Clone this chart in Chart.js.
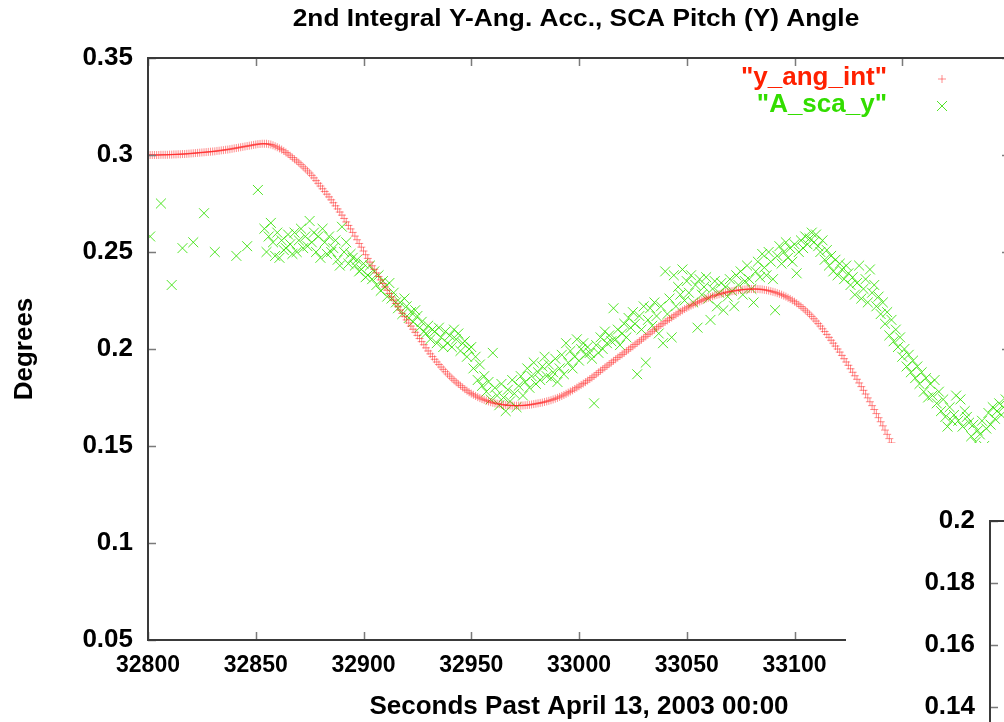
<!DOCTYPE html>
<html>
<head>
<meta charset="utf-8">
<title>2nd Integral Y-Ang. Acc., SCA Pitch (Y) Angle</title>
<script src="https://cdn.jsdelivr.net/npm/chart.js@4.4.1/dist/chart.umd.min.js"></script>
<style>
  html, body { margin: 0; padding: 0; background: #fff; overflow: hidden; }
  #page { position: relative; width: 1004px; height: 722px; overflow: hidden; }
  #mainBox { position: absolute; left: 0; top: 0; }
  #insetBox { position: absolute; left: 846px; top: 443px; background: #fff; }
</style>
</head>
<body>
<div id="page">
  <div id="mainBox"><canvas id="mainChart" width="1100" height="722"></canvas></div>
  <div id="insetBox"><canvas id="insetChart" width="300" height="357"></canvas></div>
</div>
<script>
const chartTitle = '2nd Integral Y-Ang. Acc., SCA Pitch (Y) Angle';
const xTitle = 'Seconds Past April 13, 2003 00:00';
const yTitle = 'Degrees';
const seriesNames = ['"y_ang_int"', '"A_sca_y"'];

const xMin = 32800, xMax = 33200, xStep = 50;
const yMin = 0.05, yMax = 0.35, yStep = 0.05;
const insetYMin = 0.12, insetYMax = 0.2, insetYStep = 0.02;

// y_ang_int : une valeur par seconde a partir de 32800
const angIntStart = 32800;
const angIntValues = [
  0.3000, 0.3000, 0.3000, 0.3000, 0.3000, 0.3000, 0.3001, 0.3001, 0.3001, 0.3001,
  0.3002, 0.3002, 0.3003, 0.3003, 0.3004, 0.3004, 0.3005, 0.3005, 0.3006, 0.3007,
  0.3008, 0.3009, 0.3010, 0.3011, 0.3012, 0.3013, 0.3014, 0.3015, 0.3016, 0.3017,
  0.3018, 0.3019, 0.3021, 0.3022, 0.3024, 0.3025, 0.3027, 0.3028, 0.3030, 0.3032,
  0.3034, 0.3036, 0.3038, 0.3040, 0.3042, 0.3044, 0.3046, 0.3048, 0.3050, 0.3052,
  0.3054, 0.3056, 0.3057, 0.3058, 0.3058, 0.3058, 0.3056, 0.3054, 0.3050, 0.3045,
  0.3040, 0.3034, 0.3028, 0.3021, 0.3013, 0.3005, 0.2996, 0.2987, 0.2978, 0.2969,
  0.2960, 0.2950, 0.2939, 0.2929, 0.2918, 0.2907, 0.2895, 0.2882, 0.2868, 0.2854,
  0.2840, 0.2826, 0.2812, 0.2798, 0.2784, 0.2769, 0.2754, 0.2738, 0.2722, 0.2706,
  0.2690, 0.2673, 0.2655, 0.2637, 0.2619, 0.2601, 0.2582, 0.2563, 0.2544, 0.2525,
  0.2505, 0.2486, 0.2467, 0.2448, 0.2429, 0.2411, 0.2392, 0.2374, 0.2356, 0.2338,
  0.2320, 0.2303, 0.2286, 0.2269, 0.2252, 0.2235, 0.2218, 0.2201, 0.2184, 0.2167,
  0.2150, 0.2134, 0.2118, 0.2102, 0.2086, 0.2070, 0.2054, 0.2038, 0.2022, 0.2006,
  0.1990, 0.1975, 0.1961, 0.1947, 0.1933, 0.1920, 0.1907, 0.1895, 0.1883, 0.1871,
  0.1860, 0.1849, 0.1839, 0.1829, 0.1820, 0.1811, 0.1802, 0.1793, 0.1785, 0.1777,
  0.1770, 0.1764, 0.1758, 0.1752, 0.1747, 0.1742, 0.1738, 0.1734, 0.1730, 0.1726,
  0.1723, 0.1720, 0.1718, 0.1716, 0.1714, 0.1712, 0.1711, 0.1710, 0.1709, 0.1708,
  0.1708, 0.1708, 0.1708, 0.1708, 0.1709, 0.1710, 0.1711, 0.1712, 0.1714, 0.1716,
  0.1718, 0.1720, 0.1722, 0.1724, 0.1727, 0.1730, 0.1733, 0.1736, 0.1740, 0.1744,
  0.1748, 0.1753, 0.1758, 0.1763, 0.1769, 0.1775, 0.1781, 0.1787, 0.1794, 0.1801,
  0.1808, 0.1815, 0.1822, 0.1829, 0.1837, 0.1845, 0.1853, 0.1861, 0.1870, 0.1879,
  0.1888, 0.1896, 0.1905, 0.1913, 0.1922, 0.1930, 0.1939, 0.1947, 0.1956, 0.1964,
  0.1972, 0.1980, 0.1989, 0.1997, 0.2006, 0.2014, 0.2023, 0.2031, 0.2040, 0.2048,
  0.2057, 0.2065, 0.2074, 0.2082, 0.2091, 0.2099, 0.2108, 0.2116, 0.2124, 0.2132,
  0.2140, 0.2147, 0.2155, 0.2162, 0.2170, 0.2177, 0.2185, 0.2192, 0.2199, 0.2206,
  0.2212, 0.2218, 0.2224, 0.2229, 0.2235, 0.2240, 0.2245, 0.2250, 0.2255, 0.2260,
  0.2264, 0.2268, 0.2272, 0.2276, 0.2279, 0.2282, 0.2285, 0.2288, 0.2291, 0.2294,
  0.2296, 0.2298, 0.2300, 0.2302, 0.2303, 0.2305, 0.2306, 0.2307, 0.2308, 0.2309,
  0.2309, 0.2309, 0.2309, 0.2309, 0.2308, 0.2307, 0.2305, 0.2303, 0.2301, 0.2298,
  0.2295, 0.2292, 0.2288, 0.2284, 0.2280, 0.2275, 0.2270, 0.2264, 0.2258, 0.2251,
  0.2244, 0.2236, 0.2228, 0.2219, 0.2210, 0.2200, 0.2190, 0.2179, 0.2168, 0.2156,
  0.2144, 0.2131, 0.2118, 0.2104, 0.2090, 0.2075, 0.2060, 0.2045, 0.2030, 0.2015,
  0.2000, 0.1984, 0.1967, 0.1950, 0.1933, 0.1916, 0.1898, 0.1880, 0.1862, 0.1844,
  0.1825, 0.1806, 0.1787, 0.1768, 0.1748, 0.1728, 0.1708, 0.1688, 0.1667, 0.1646,
  0.1625, 0.1604, 0.1582, 0.1560, 0.1538, 0.1516, 0.1493, 0.1470, 0.1447, 0.1424,
  0.1400
];

// A_sca_y : premiers points isoles
const scaEarlyTimes = [32801, 32806, 32811, 32816, 32821, 32826, 32831, 32841, 32846, 32851];
const scaEarlyValues = [0.258, 0.275, 0.233, 0.252, 0.255, 0.270, 0.250, 0.248, 0.253, 0.282];

// A_sca_y : ensuite une valeur par seconde a partir de 32854
const scaStart = 32854;
const scaValues = [
  0.262, 0.250, 0.258, 0.265, 0.255, 0.248, 0.260, 0.247, 0.256, 0.251,
  0.252, 0.259, 0.254, 0.249, 0.260, 0.250, 0.256, 0.262, 0.252, 0.258,
  0.253, 0.266, 0.255, 0.260, 0.250, 0.258, 0.247, 0.262, 0.255, 0.249,
  0.258, 0.250, 0.252, 0.256, 0.246, 0.243, 0.263, 0.250, 0.255, 0.244,
  0.249, 0.247, 0.243, 0.246, 0.240, 0.241, 0.244, 0.237, 0.238, 0.243,
  0.236, 0.240, 0.233, 0.238, 0.230, 0.235, 0.232, 0.227, 0.234, 0.226,
  0.229, 0.224, 0.221, 0.224, 0.218, 0.226, 0.222, 0.216, 0.219, 0.214,
  0.220, 0.217, 0.211, 0.214, 0.209, 0.208, 0.212, 0.205, 0.210, 0.209,
  0.203, 0.211, 0.206, 0.201, 0.209, 0.203, 0.207, 0.201, 0.210, 0.205,
  0.208, 0.199, 0.203, 0.204, 0.196, 0.200, 0.201, 0.190, 0.196, 0.184,
  0.192, 0.181, 0.186, 0.178, 0.183, 0.174, 0.198, 0.180, 0.176, 0.171,
  0.182, 0.175, 0.168, 0.179, 0.173, 0.184, 0.177, 0.170, 0.181, 0.186,
  0.176, 0.183, 0.190, 0.180, 0.186, 0.193, 0.182, 0.188, 0.184, 0.191,
  0.196, 0.186, 0.192, 0.185, 0.188, 0.195, 0.183, 0.190, 0.197, 0.187,
  0.203, 0.193, 0.199, 0.190, 0.196, 0.205, 0.194, 0.200, 0.203, 0.197,
  0.201, 0.198, 0.195, 0.172, 0.202, 0.198, 0.206, 0.200, 0.209, 0.203,
  0.207, 0.204, 0.221, 0.205, 0.210, 0.202, 0.208, 0.213, 0.206, 0.216,
  0.211, 0.219, 0.213, 0.187, 0.217, 0.210, 0.222, 0.193, 0.215, 0.221,
  0.212, 0.224, 0.217, 0.208, 0.222, 0.203, 0.240, 0.218, 0.226, 0.206,
  0.238, 0.222, 0.232, 0.228, 0.241, 0.225, 0.235, 0.229, 0.238, 0.224,
  0.233, 0.211, 0.236, 0.228, 0.232, 0.237, 0.226, 0.215, 0.231, 0.235,
  0.222, 0.229, 0.234, 0.220, 0.232, 0.227, 0.236, 0.230, 0.222, 0.238,
  0.233, 0.240, 0.228, 0.235, 0.243, 0.236, 0.231, 0.224, 0.240, 0.245,
  0.237, 0.249, 0.242, 0.238, 0.250, 0.245, 0.236, 0.220, 0.248, 0.253,
  0.244, 0.250, 0.255, 0.247, 0.252, 0.245, 0.254, 0.239, 0.250, 0.256,
  0.252, 0.258, 0.254, 0.257, 0.260, 0.255, 0.259, 0.253, 0.250, 0.256,
  0.246, 0.251, 0.243, 0.248, 0.240, 0.246, 0.238, 0.244, 0.241, 0.236,
  0.243, 0.239, 0.233, 0.237, 0.228, 0.234, 0.243, 0.226, 0.231, 0.236,
  0.224, 0.241, 0.229, 0.233, 0.222, 0.227, 0.218, 0.224, 0.213, 0.219,
  0.207, 0.215, 0.204, 0.210, 0.201, 0.206, 0.196, 0.200, 0.191, 0.197,
  0.188, 0.194, 0.185, 0.191, 0.182, 0.188, 0.178, 0.185, 0.175, 0.182,
  0.176, 0.184, 0.172, 0.178, 0.168, 0.174, 0.165, 0.160, 0.170, 0.163,
  0.166, 0.176, 0.163, 0.174, 0.160, 0.168, 0.165, 0.162, 0.155, 0.161,
  0.152, 0.158, 0.156, 0.163, 0.150, 0.159, 0.167, 0.161, 0.170, 0.164,
  0.168, 0.172, 0.166, 0.170, 0.174
];

const redColor = 'rgba(255, 30, 30, 0.5)';
const greenColor = 'rgba(50, 225, 0, 0.85)';
const redText = '#ff2000';
const greenText = '#33dd00';
const fontFamily = "'Liberation Sans', Arial, Helvetica, sans-serif";

// Construction des points
const angIntPoints = angIntValues.map((v, i) => ({ x: angIntStart + i, y: v }));
const scaPoints = scaEarlyTimes.map((t, i) => ({ x: t, y: scaEarlyValues[i] }))
  .concat(scaValues.map((v, i) => ({ x: scaStart + i, y: v })));

function fmt(v) {
  return String(parseFloat(v.toFixed(3)));
}

// Cadre et graduations vers l'interieur, comme gnuplot
const mainFrame = {
  id: 'mainFrame',
  afterDatasetsDraw(chart) {
    const { ctx, chartArea: a, scales } = chart;
    ctx.save();
    ctx.strokeStyle = '#7a7a7a';
    ctx.lineWidth = 1.5;
    ctx.beginPath();
    scales.x.ticks.forEach(t => {
      const px = Math.round(scales.x.getPixelForValue(t.value)) + 0.5;
      ctx.moveTo(px, a.bottom); ctx.lineTo(px, a.bottom - 8);
      ctx.moveTo(px, a.top); ctx.lineTo(px, a.top + 8);
    });
    scales.y.ticks.forEach(t => {
      const py = Math.round(scales.y.getPixelForValue(t.value)) + 0.5;
      ctx.moveTo(a.left, py); ctx.lineTo(a.left + 8, py);
      ctx.moveTo(a.right, py); ctx.lineTo(a.right - 8, py);
    });
    ctx.stroke();
    ctx.strokeStyle = '#3a3a3a';
    ctx.lineWidth = 2;
    ctx.strokeRect(a.left, a.top, a.right - a.left, a.bottom - a.top);

    // legende
    ctx.font = 'bold 26px ' + fontFamily;
    ctx.textAlign = 'right';
    ctx.textBaseline = 'middle';
    ctx.fillStyle = redText;
    ctx.fillText(seriesNames[0], 887, 78);
    ctx.fillStyle = greenText;
    ctx.fillText(seriesNames[1], 887, 105);
    ctx.lineWidth = 1;
    ctx.strokeStyle = redColor;
    ctx.beginPath();
    ctx.moveTo(938, 79); ctx.lineTo(946, 79);
    ctx.moveTo(942, 75); ctx.lineTo(942, 83);
    ctx.stroke();
    ctx.strokeStyle = greenColor;
    ctx.beginPath();
    ctx.moveTo(937, 101); ctx.lineTo(947, 111);
    ctx.moveTo(947, 101); ctx.lineTo(937, 111);
    ctx.stroke();

    // titre, un peu elargi comme dans l'original
    ctx.fillStyle = '#000';
    ctx.textAlign = 'center';
    ctx.font = 'bold 24px ' + fontFamily;
    ctx.translate(576, 19);
    ctx.scale(1.095, 1);
    ctx.fillText(chartTitle, 0, 0);
    ctx.restore();
  }
};

const insetFrame = {
  id: 'insetFrame',
  afterDatasetsDraw(chart) {
    const { ctx, chartArea: a, scales } = chart;
    ctx.save();
    ctx.strokeStyle = '#7a7a7a';
    ctx.lineWidth = 1.5;
    ctx.beginPath();
    scales.y.ticks.forEach(t => {
      const py = Math.round(scales.y.getPixelForValue(t.value)) + 0.5;
      ctx.moveTo(a.left, py); ctx.lineTo(a.left + 8, py);
    });
    ctx.stroke();
    ctx.strokeStyle = '#3a3a3a';
    ctx.lineWidth = 2;
    ctx.strokeRect(a.left, a.top, a.right - a.left + 20, a.bottom - a.top);
    ctx.restore();
  }
};

const bigFont = { family: fontFamily, size: 26, weight: 'bold' };

new Chart(document.getElementById('mainChart'), {
  type: 'scatter',
  data: {
    datasets: [{
      label: seriesNames[0],
      data: angIntPoints,
      pointStyle: 'cross',
      pointRadius: 4,
      borderWidth: 1,
      borderColor: redColor,
      backgroundColor: redColor
    }, {
      label: seriesNames[1],
      data: scaPoints,
      pointStyle: 'crossRot',
      pointRadius: 7,
      borderWidth: 1,
      borderColor: greenColor,
      backgroundColor: greenColor
    }]
  },
  options: {
    responsive: false,
    animation: false,
    devicePixelRatio: 1,
    layout: { padding: { left: 0, top: 58, right: 90, bottom: 0 } },
    plugins: {
      legend: { display: false },
      title: { display: false },
      tooltip: { enabled: false }
    },
    scales: {
      x: {
        type: 'linear',
        min: xMin,
        max: xMax,
        grid: { display: false, drawTicks: false },
        border: { display: false },
        ticks: {
          stepSize: xStep,
          padding: 12,
          color: '#000',
          font: { family: fontFamily, size: 23, weight: 'bold' },
          maxRotation: 0,
          autoSkip: false,
          callback: v => String(v)
        },
        title: {
          display: true,
          text: xTitle,
          color: '#000',
          font: bigFont,
          padding: { top: 0, bottom: 0 }
        },
        afterFit: s => { s.height = 82; }
      },
      y: {
        type: 'linear',
        min: yMin,
        max: yMax,
        grid: { display: false, drawTicks: false },
        border: { display: false },
        ticks: {
          stepSize: yStep,
          padding: 15,
          color: '#000',
          font: bigFont,
          callback: v => fmt(v)
        },
        title: {
          display: true,
          text: yTitle,
          color: '#000',
          font: bigFont,
          padding: { top: 9, bottom: 0 }
        },
        afterFit: s => { s.width = 148; }
      }
    }
  },
  plugins: [mainFrame]
});

// Deuxieme graphique, en partie visible en bas a droite
new Chart(document.getElementById('insetChart'), {
  type: 'scatter',
  data: { datasets: [] },
  options: {
    responsive: false,
    animation: false,
    devicePixelRatio: 1,
    layout: { padding: { left: 0, top: 78, right: 0, bottom: 0 } },
    plugins: {
      legend: { display: false },
      title: { display: false },
      tooltip: { enabled: false }
    },
    scales: {
      x: { type: 'linear', display: false, min: xMin, max: xMax },
      y: {
        type: 'linear',
        min: insetYMin,
        max: insetYMax,
        grid: { display: false, drawTicks: false },
        border: { display: false },
        ticks: {
          stepSize: insetYStep,
          padding: 15,
          color: '#000',
          font: bigFont,
          callback: v => fmt(v)
        },
        afterFit: s => { s.width = 144; }
      }
    }
  },
  plugins: [insetFrame]
});
</script>
</body>
</html>
